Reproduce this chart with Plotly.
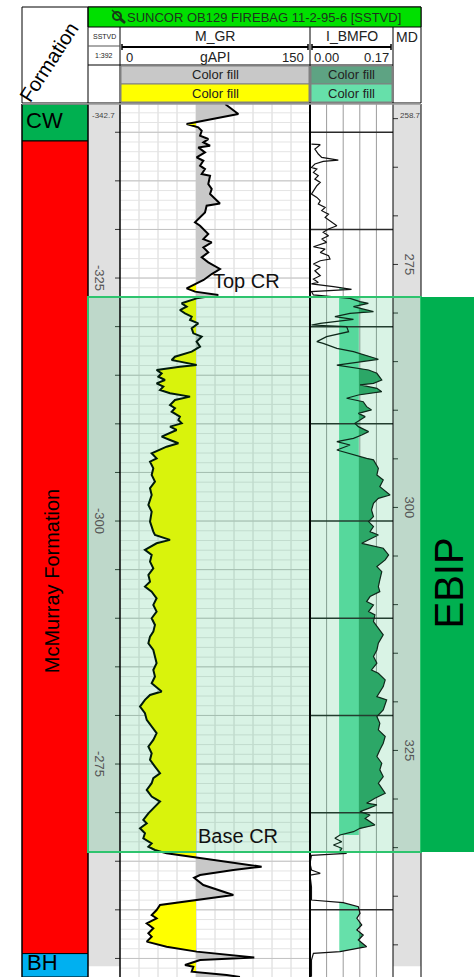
import numpy as np
import plotly.graph_objects as go

W, H = 474, 977

# ---------------- data ----------------
md_top_label = 258.7
sstvd_top_label = -342.7
md_view_top = 258.494
md_view_base = 348.31
md_column_base = 347.2

gr_md = [258.5, 259.53, 260.56, 260.73, 260.9, 261.24, 261.76, 262.1, 262.44, 262.79, 262.96, 263.47,
         263.99, 264.33, 264.84, 265.19, 265.7, 265.87, 266.73, 267.24, 267.76, 268.72, 268.96, 269.65,
         270.67, 271.02, 271.36, 271.87, 272.39, 272.73, 273.25, 273.76, 274.27, 274.79, 275.47, 275.99,
         276.6, 277.1, 277.46, 277.8, 278.14, 278.49, 279.0, 279.34, 279.69, 280.03, 280.37, 280.72,
         281.06, 281.57, 282.09, 282.43, 282.94, 283.46, 283.97, 284.49, 284.83, 285.0, 285.35, 285.52,
         285.86, 286.2, 286.55, 286.89, 287.23, 287.57, 287.92, 288.26, 288.6, 288.95, 289.46, 289.8,
         290.15, 290.66, 291.0, 291.35, 291.69, 292.03, 292.72, 293.06, 293.4, 293.75, 294.43, 294.95,
         295.29, 295.97, 296.66, 297.34, 298.03, 298.72, 299.74, 300.43, 301.46, 302.49, 302.83, 303.34,
         303.69, 304.37, 304.89, 305.57, 306.26, 306.95, 307.63, 308.15, 308.66, 309.35, 310.03, 310.72,
         311.4, 312.09, 312.78, 313.29, 313.97, 314.66, 315.34, 316.03, 316.72, 317.4, 318.09, 318.94,
         319.29, 319.8, 320.49, 321.17, 321.86, 322.55, 323.23, 323.92, 324.6, 325.29, 325.97, 326.66,
         327.35, 327.86, 328.37, 329.06, 329.75, 330.26, 330.95, 331.47, 332.16, 332.5, 333.01, 333.53,
         334.04, 334.56, 334.9, 335.24, 335.59, 336.0, 336.44, 336.96, 337.3, 337.82, 338.1, 338.33,
         338.85, 339.87, 340.39, 340.9, 341.42, 341.93, 342.27, 342.79, 343.3, 343.82, 344.16, 344.67,
         345.19, 345.7, 346.3, 346.56, 347.08, 347.25, 347.76, 348.1, 348.31]
gr_api = [83.0, 93.4, 52.6, 56.6, 61.8, 64.5, 63.2, 69.7, 65.8, 71.1, 61.8, 67.1,
          60.5, 65.8, 63.2, 67.1, 64.5, 71.1, 69.7, 72.4, 71.1, 78.9, 68.4, 67.1,
          59.2, 63.2, 65.8, 69.7, 65.8, 72.4, 65.8, 69.7, 64.5, 69.7, 78.9, 72.4,
          66.0, 58.0, 52.6, 59.2, 77.6, 60.5, 48.7, 52.6, 47.3, 51.3, 56.6, 55.3,
          61.8, 56.6, 57.9, 64.5, 60.5, 63.2, 56.6, 43.4, 40.8, 47.3, 60.5, 47.3,
          28.9, 32.9, 30.3, 35.5, 28.9, 34.2, 31.6, 39.5, 55.3, 43.4, 39.5, 43.4,
          40.8, 47.3, 46.1, 48.7, 39.5, 44.7, 32.9, 39.5, 46.1, 36.8, 25.0, 28.9,
          23.7, 26.3, 25.0, 27.6, 23.7, 25.0, 22.4, 25.0, 23.7, 26.3, 27.6, 39.5,
          28.9, 19.7, 25.0, 23.7, 26.3, 22.4, 23.7, 19.7, 25.0, 28.9, 26.3, 28.9,
          25.0, 27.6, 26.3, 23.7, 22.4, 26.3, 27.6, 28.9, 26.3, 27.6, 25.0, 32.9,
          23.7, 19.7, 15.8, 19.7, 21.1, 25.0, 28.9, 26.3, 22.4, 25.0, 23.7, 27.6,
          31.6, 26.3, 25.0, 21.1, 25.0, 31.6, 26.3, 22.4, 18.4, 21.1, 15.8, 19.7,
          18.4, 25.0, 22.4, 27.6, 36.8, 60.5, 84.2, 111.8, 89.5, 63.2, 58.5, 61.0,
          65.8, 89.5, 60.5, 31.6, 28.9, 25.0, 28.9, 21.1, 26.3, 22.4, 25.0, 21.1,
          36.8, 60.5, 106.0, 63.2, 51.3, 57.9, 56.6, 84.2, 94.7]

bm_md = [262.62, 262.68, 263.13, 263.64, 263.99, 264.26, 264.4, 264.67, 265.02, 265.19, 265.53, 265.87,
         266.22, 266.56, 266.9, 267.42, 267.76, 268.1, 268.45, 268.79, 269.13, 269.47, 269.82, 270.16,
         270.5, 271.02, 271.36, 271.7, 272.05, 272.39, 272.73, 273.18, 273.42, 273.76, 274.1, 274.45,
         274.62, 274.96, 275.3, 275.65, 276.16, 276.5, 276.85, 277.0, 277.29, 277.56, 277.8, 278.14,
         278.49, 278.83, 279.0, 279.34, 279.86, 280.03, 280.37, 280.65, 281.06, 281.23, 281.4, 281.92,
         282.43, 282.94, 283.12, 283.29, 283.63, 283.97, 284.42, 284.76, 285.35, 285.58, 285.86, 286.2,
         286.89, 287.23, 287.4, 287.75, 288.09, 288.43, 288.77, 289.12, 289.63, 289.97, 290.32, 290.66,
         291.0, 291.35, 291.69, 292.2, 292.55, 292.89, 293.23, 293.58, 294.09, 294.6, 294.95, 295.11,
         295.97, 296.66, 297.17, 297.86, 298.72, 299.06, 299.57, 300.26, 300.94, 301.46, 301.97, 302.49,
         302.83, 303.69, 304.2, 304.89, 305.4, 306.09, 306.6, 307.46, 308.15, 308.66, 309.17, 309.69,
         310.03, 310.72, 311.06, 311.75, 312.43, 313.11, 313.97, 314.66, 315.34, 316.03, 316.72, 317.06,
         317.74, 318.43, 319.46, 319.8, 320.83, 321.52, 322.2, 322.89, 323.57, 324.26, 324.95, 325.63,
         326.32, 327.0, 327.69, 328.37, 329.4, 329.92, 330.43, 330.61, 330.96, 331.3, 331.64, 331.99,
         332.67, 333.01, 333.36, 333.7, 334.04, 334.39, 334.73, 335.07, 335.42, 335.59, 335.79, 336.62,
         337.3, 337.64, 337.82, 339.02, 340.39, 340.66, 341.07, 341.76, 342.27, 342.96, 343.47, 343.99,
         344.5, 345.19, 345.7, 345.87, 346.56, 348.28]
bm_val = [0.003, 0.021, 0.010, 0.017, 0.024, 0.058, 0.027, 0.010, 0.003, 0.014, 0.007, 0.017,
          0.010, 0.021, 0.014, 0.007, 0.003, 0.014, 0.021, 0.017, 0.031, 0.024, 0.038, 0.031,
          0.041, 0.055, 0.038, 0.027, 0.038, 0.024, 0.034, 0.007, 0.031, 0.021, 0.038, 0.041,
          0.021, 0.007, 0.021, 0.010, 0.021, 0.007, 0.017, 0.003, 0.048, 0.085, 0.003, 0.007,
          0.082, 0.1025, 0.1195, 0.089, 0.130, 0.082, 0.051, 0.089, 0.021, 0.003, 0.075, 0.079,
          0.034, 0.014, 0.027, 0.038, 0.055, 0.089, 0.120, 0.140, 0.055, 0.089, 0.120, 0.137,
          0.147, 0.130, 0.1025, 0.137, 0.147, 0.099, 0.075, 0.109, 0.116, 0.126, 0.099, 0.113,
          0.1025, 0.092, 0.099, 0.120, 0.106, 0.089, 0.055, 0.082, 0.055, 0.089, 0.116, 0.130,
          0.140, 0.137, 0.150, 0.143, 0.164, 0.140, 0.130, 0.126, 0.130, 0.120, 0.130, 0.123,
          0.140, 0.106, 0.150, 0.161, 0.154, 0.137, 0.147, 0.143, 0.140, 0.143, 0.123, 0.116,
          0.130, 0.120, 0.133, 0.130, 0.140, 0.150, 0.140, 0.137, 0.130, 0.137, 0.126, 0.140,
          0.154, 0.150, 0.137, 0.157, 0.150, 0.137, 0.143, 0.140, 0.154, 0.150, 0.143, 0.137,
          0.147, 0.143, 0.150, 0.140, 0.154, 0.133, 0.116, 0.137, 0.120, 0.1025, 0.123, 0.113,
          0.133, 0.1025, 0.089, 0.0615, 0.051, 0.065, 0.048, 0.065, 0.0615, 0.075, 0.003, 0.000,
          0.003, 0.021, 0.000, 0.003, 0.003, 0.068, 0.099, 0.1025, 0.096, 0.106, 0.096, 0.109,
          0.099, 0.116, 0.0615, 0.007, 0.003, 0.003]

gr_range = [0, 150]
bm_range = [0.0, 0.17]
gr_cutoff = 60.0
bm_cut_low = 0.06
bm_cut_high = 0.10
band_top, band_base = 278.35, 333.7

zone_name = "EBIP"
zone_top, zone_base = 278.35, 335.45
marker_names = ["Top CR", "Base CR"]
marker_md = [278.35, 335.45]

form_names = ["CW", "McMurray Formation", "BH"]
form_tops = [258.494, 262.3, 345.9]
form_bases = [262.3, 345.9, 348.31]
form_colors = ["#00b050", "#ff0000", "#00b0f0"]

sstvd_label_vals = [-325, -300, -275]
md_label_vals = [275, 300, 325]

title = "SUNCOR OB129 FIREBAG 11-2-95-6 [SSTVD]"

# ---------------- helpers ----------------
FONT = "Liberation Sans, Arial, sans-serif"
offset = md_top_label - sstvd_top_label  # MD = SSTVD + offset


def X(p):
    return p / W


def Y(p):
    return 1 - p / H


def with_crossings(d, v, cuts):
    d = list(d)
    v = list(v)
    for c in cuts:
        nd, nv = [d[0]], [v[0]]
        for i in range(1, len(d)):
            a, b = v[i - 1], v[i]
            if (a - c) * (b - c) < 0:
                t = (c - a) / (b - a)
                nd.append(d[i - 1] + t * (d[i] - d[i - 1]))
                nv.append(c)
            nd.append(d[i])
            nv.append(v[i])
        d, v = nd, nv
    return np.array(d), np.array(v)


def hlines(mds, x0, x1):
    xs, ys = [], []
    for m in mds:
        xs += [x0, x1, None]
        ys += [m, m, None]
    return xs, ys


def vlines(xv, y0, y1):
    xs, ys = [], []
    for x in xv:
        xs += [x, x, None]
        ys += [y0, y1, None]
    return xs, ys


fig = go.Figure()
GA = dict(xaxis="x", yaxis="y", hoverinfo="skip", showlegend=False)
BA = dict(xaxis="x2", yaxis="y", hoverinfo="skip", showlegend=False)

# grid depths (SSTVD based)
s_minor = np.arange(np.ceil(sstvd_top_label), md_view_base - offset, 1.0)
s_major = s_minor[np.mod(s_minor, 5) == 0]
s_bm = s_minor[np.mod(s_minor, 10) == 0]

# ---- GR track ----
xs, ys = vlines(np.arange(15, 150, 15), md_view_top, md_view_base)
fig.add_trace(go.Scatter(x=xs, y=ys, mode="lines", line=dict(color="#d6d6d6", width=1), **GA))
xs, ys = hlines(s_minor + offset, 0, 150)
fig.add_trace(go.Scatter(x=xs, y=ys, mode="lines", line=dict(color="#e4e4e4", width=1), **GA))
xs, ys = hlines(s_major + offset, 0, 150)
fig.add_trace(go.Scatter(x=xs, y=ys, mode="lines", line=dict(color="#c2c2c2", width=1), **GA))

gd, gv = with_crossings(gr_md, gr_api, [gr_cutoff])
base = np.full_like(gv, gr_cutoff)
fig.add_trace(go.Scatter(x=base, y=gd, mode="lines", line=dict(width=0), **GA))
fig.add_trace(go.Scatter(x=np.minimum(gv, gr_cutoff), y=gd, mode="lines", line=dict(width=0),
                         fill="tonextx", fillcolor="#ffff00", **GA))
fig.add_trace(go.Scatter(x=base, y=gd, mode="lines", line=dict(width=0), **GA))
fig.add_trace(go.Scatter(x=np.maximum(gv, gr_cutoff), y=gd, mode="lines", line=dict(width=0),
                         fill="tonextx", fillcolor="#c8c8c8", **GA))
fig.add_trace(go.Scatter(x=gr_api, y=gr_md, mode="lines", line=dict(color="#000000", width=2), **GA))

# ---- I_BMFO track ----
bstep = (bm_range[1] - bm_range[0]) / 5
xs, ys = vlines([bm_range[0] + bstep * k for k in range(1, 5)], md_view_top, md_view_base)
fig.add_trace(go.Scatter(x=xs, y=ys, mode="lines", line=dict(color="#9c9c9c", width=1), **BA))

fig.add_trace(go.Scatter(x=[bm_cut_low, bm_cut_high, bm_cut_high, bm_cut_low, bm_cut_low],
                         y=[band_top, band_top, band_base, band_base, band_top], mode="lines",
                         line=dict(width=0), fill="toself", fillcolor="#66e0aa", **BA))
bd, bv = with_crossings(bm_md, bm_val, [bm_cut_low, bm_cut_high])
fig.add_trace(go.Scatter(x=np.full_like(bv, bm_cut_low), y=bd, mode="lines", line=dict(width=0), **BA))
fig.add_trace(go.Scatter(x=np.clip(bv, bm_cut_low, bm_cut_high), y=bd, mode="lines", line=dict(width=0),
                         fill="tonextx", fillcolor="#66e0aa", **BA))
fig.add_trace(go.Scatter(x=np.full_like(bv, bm_cut_high), y=bd, mode="lines", line=dict(width=0), **BA))
fig.add_trace(go.Scatter(x=np.maximum(bv, bm_cut_high), y=bd, mode="lines", line=dict(width=0),
                         fill="tonextx", fillcolor="#34a66c", **BA))
xs, ys = hlines(s_bm + offset, bm_range[0], bm_range[1])
fig.add_trace(go.Scatter(x=xs, y=ys, mode="lines", line=dict(color="#2a2a2a", width=1.5), **BA))
fig.add_trace(go.Scatter(x=bm_val, y=bm_md, mode="lines", line=dict(color="#111111", width=1.2), **BA))

# ---------------- shapes ----------------
shapes = []
ann = []


def rect_px(x0, y0, x1, y1, fill, line="#000000", lw=1, layer="above"):
    shapes.append(dict(type="rect", xref="paper", yref="paper", x0=X(x0), x1=X(x1), y0=Y(y1), y1=Y(y0),
                       fillcolor=fill, line=dict(color=line, width=lw), layer=layer))


def line_px(x0, y0, x1, y1, color="#000000", lw=1, layer="above"):
    shapes.append(dict(type="line", xref="paper", yref="paper", x0=X(x0), x1=X(x1), y0=Y(y0), y1=Y(y1),
                       line=dict(color=color, width=lw), layer=layer))


def text_px(x, y, t, size=13, color="#222222", xanchor="center", angle=0):
    ann.append(dict(xref="paper", yref="paper", x=X(x), y=Y(y), text=t, showarrow=False,
                    font=dict(size=size, color=color, family=FONT), xanchor=xanchor, yanchor="middle",
                    textangle=angle))


# depth column backgrounds
for xa, xb in [(88, 120), (393, 421)]:
    shapes.append(dict(type="rect", xref="paper", yref="y", x0=X(xa), x1=X(xb), y0=md_view_top,
                       y1=md_column_base, fillcolor="#e0e0e0", line=dict(width=0), layer="below"))

# formation column
for name, t, b, c in zip(form_names, form_tops, form_bases, form_colors):
    shapes.append(dict(type="rect", xref="paper", yref="y", x0=X(22), x1=X(88), y0=t, y1=b,
                       fillcolor=c, line=dict(color="#000000", width=1), layer="above"))

# SSTVD ticks and labels
for s in s_major:
    shapes.append(dict(type="line", xref="paper", yref="y", x0=X(115), x1=X(120), y0=s + offset,
                       y1=s + offset, line=dict(color="#333333", width=1)))
for s in sstvd_label_vals:
    ann.append(dict(xref="paper", yref="y", x=X(100), y=s + offset, text=str(s), showarrow=False,
                    xanchor="center", yanchor="middle",
                    textangle=90, font=dict(size=13, color="#555555", family=FONT)))
ann.append(dict(xref="paper", yref="y", x=X(90), y=md_top_label, text=f"{sstvd_top_label}", showarrow=False,
                xanchor="left", yanchor="top", yshift=-3, font=dict(size=8, color="#444444", family=FONT)))

# MD ticks and labels
md_ticks = np.arange(np.ceil(md_top_label / 5) * 5, md_column_base, 5)
for m in md_ticks:
    shapes.append(dict(type="line", xref="paper", yref="y", x0=X(393), x1=X(398), y0=m, y1=m,
                       line=dict(color="#333333", width=1)))
for m in md_label_vals:
    ann.append(dict(xref="paper", yref="y", x=X(410), y=m, text=str(m), showarrow=False,
                    xanchor="center", yanchor="middle",
                    textangle=90, font=dict(size=13, color="#555555", family=FONT)))
ann.append(dict(xref="paper", yref="y", x=X(398), y=md_top_label, text=f"{md_top_label}", showarrow=False,
                xanchor="left", yanchor="top", yshift=-3, font=dict(size=8, color="#444444", family=FONT)))

# zone overlay
shapes.append(dict(type="rect", xref="paper", yref="y", x0=X(88), x1=X(421), y0=zone_top, y1=zone_base,
                   fillcolor="rgba(0,176,80,0.15)", line=dict(width=0), layer="above"))

# track borders
for xp, lw in [(22, 1), (88, 1), (120, 1.5), (310, 2), (393, 1), (421, 1)]:
    shapes.append(dict(type="line", xref="paper", yref="y", x0=X(xp), x1=X(xp), y0=md_view_top,
                       y1=md_view_base, line=dict(color="#000000", width=lw), layer="above"))

# zone border + label box
shapes.append(dict(type="rect", xref="paper", yref="y", x0=X(88), x1=X(421), y0=zone_top, y1=zone_base,
                   fillcolor="rgba(0,0,0,0)", line=dict(color="#2ec46e", width=2), layer="above"))
shapes.append(dict(type="rect", xref="paper", yref="y", x0=X(421), x1=X(474), y0=zone_top, y1=zone_base,
                   fillcolor="#00b050", line=dict(width=0), layer="above"))
ann.append(dict(xref="paper", yref="y", x=X(448), y=(zone_top + zone_base) / 2, yshift=-9, text=zone_name,
                showarrow=False, textangle=-90, xanchor="center", yanchor="middle",
                font=dict(size=40, color="#000000", family=FONT)))

# markers labels
ann.append(dict(xref="paper", yref="y", x=X(211), y=marker_md[0], yshift=3, text=marker_names[0],
                showarrow=False, xanchor="left", yanchor="bottom",
                font=dict(size=20, color="#111111", family=FONT)))
ann.append(dict(xref="paper", yref="y", x=X(196), y=marker_md[1], yshift=3, text=marker_names[1],
                showarrow=False, xanchor="left", yanchor="bottom",
                font=dict(size=20, color="#111111", family=FONT)))

# formation labels
ann.append(dict(xref="paper", yref="y", x=X(24), y=(form_tops[0] + form_bases[0]) / 2, yshift=2,
                text=form_names[0], showarrow=False, xanchor="left", yanchor="middle",
                font=dict(size=22, color="#000000", family=FONT)))
ann.append(dict(xref="paper", yref="y", x=X(52), y=(form_tops[1] + form_bases[1]) / 2, yshift=-34,
                text=form_names[1], showarrow=False, textangle=-90, xanchor="center", yanchor="middle",
                font=dict(size=20, color="#000000", family=FONT)))
ann.append(dict(xref="paper", yref="y", x=X(25), y=(form_tops[2] + form_bases[2]) / 2, yshift=3,
                text=form_names[2], showarrow=False, xanchor="left", yanchor="middle",
                font=dict(size=22, color="#000000", family=FONT)))

# ---------------- header ----------------
rect_px(22, 7, 421, 103, "rgba(0,0,0,0)")
rect_px(88, 7, 421, 27, "#00e000")
line_px(88, 7, 88, 103)
line_px(120, 27, 120, 103)
line_px(310, 27, 310, 103)
line_px(393, 27, 393, 103)
line_px(88, 46, 120, 46, color="#555555")
line_px(88, 65, 393, 65)
line_px(22, 104, 421, 104, color="#9a9a9a", lw=1.5)
# colour fill legend cells
rect_px(121, 66, 309, 84, "#c8c8c8", line="#808080")
rect_px(121, 84, 309, 102, "#ffff00", line="#808080")
rect_px(311, 66, 392, 84, "#5ea383", line="#808080")
rect_px(311, 84, 392, 102, "#66e0aa", line="#808080")
for yc in (75, 93):
    text_px(215, yc, "Color fill", size=13)
    text_px(351.5, yc, "Color fill", size=13)
# scale bars
for xa, xb in [(122, 308), (312, 391)]:
    line_px(xa, 47, xb, 47, lw=2)
    line_px(xa, 44, xa, 50, lw=1.5)
    line_px(xb, 44, xb, 50, lw=1.5)
# icon
shapes.append(dict(type="circle", xref="paper", yref="paper", x0=X(113), x1=X(121), y0=Y(20), y1=Y(12),
                   line=dict(color="#163a16", width=2)))
line_px(120, 19, 125, 23, color="#163a16", lw=2.5)
line_px(112, 10, 125, 22, color="#163a16", lw=1.5)
text_px(264, 17, title, size=13, color="#1d331d")
text_px(104, 37, "SSTVD", size=7)
text_px(104, 55, "1:392", size=7)
text_px(215, 36, "M_GR", size=14)
text_px(124, 57, "0", size=13, xanchor="left")
text_px(215, 57, "gAPI", size=14)
text_px(306, 57, "150", size=13, xanchor="right")
text_px(351.5, 36, "I_BMFO", size=14)
text_px(312, 57, "0.00", size=13, xanchor="left")
text_px(391, 57, "0.17", size=13, xanchor="right")
text_px(407, 37, "MD", size=14)
text_px(49, 62, "Formation", size=20, color="#000000", angle=-57)

fig.update_layout(
    width=W, height=H, margin=dict(l=0, r=0, t=0, b=0),
    paper_bgcolor="white", plot_bgcolor="rgba(0,0,0,0)", showlegend=False,
    font=dict(family=FONT),
    xaxis=dict(domain=[X(120), X(310)], range=gr_range, visible=False, fixedrange=True),
    xaxis2=dict(domain=[X(310), X(393)], range=bm_range, visible=False, fixedrange=True, anchor="y"),
    yaxis=dict(domain=[0, Y(104)], range=[md_view_base, md_view_top], visible=False, fixedrange=True),
    shapes=shapes, annotations=ann,
)

fig.write_html("out.html", config={"displayModeBar": False},
               post_script="document.body.style.margin='0';document.body.style.overflow='hidden';")
